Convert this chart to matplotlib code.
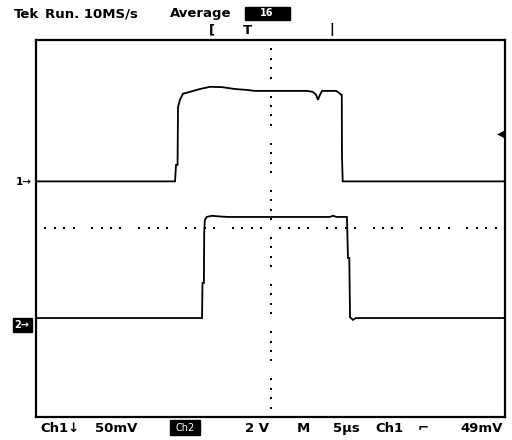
import numpy as np
import matplotlib
matplotlib.use("Agg")
import matplotlib.pyplot as plt
from matplotlib.patches import Rectangle

# ---- data (time in µs from left edge of screen) ----
ch1_t = [0, 14.82, 14.93, 15.09, 15.14, 15.35, 15.67, 16.42, 17.48, 18.55, 19.83, 21.2, 22.5, 23.3,
         24.9, 28.9, 29.5, 29.85, 30.06, 30.28, 30.5, 32.0, 32.3, 32.5, 32.6, 32.62, 32.7, 50]
ch1_mv = [0, 0, 17.5, 17.5, 79, 86.6, 93, 95, 98, 100.3, 100, 98, 97, 96,
          96, 96, 95, 92, 86.6, 92, 96, 96, 94, 92, 92, 26, 0, 0]
ch2_t = [0, 17.7, 17.75, 17.9, 17.93, 18.0, 18.2, 18.76, 19.6, 20.5, 31.3, 31.7, 32.0, 33.15,
         33.26, 33.4, 33.48, 33.8, 34.1, 50]
ch2_v = [0, 0, 1.49, 1.49, 3.61, 4.16, 4.29, 4.34, 4.31, 4.29, 4.29, 4.34, 4.29, 4.29,
         2.55, 2.55, 0.04, -0.08, 0, 0]

ch1_scale_mv = 50.0   # mV/div
ch2_scale_v = 2.0     # V/div
ch1_ground_div = 5.0
ch2_ground_div = 2.1
time_per_div = 5.0    # µs/div

header_mode = "Average"
footer = [("Ch1↓", 40), ("50mV", 95), ("2 V", 245), ("M", 297), ("5µs", 333),
          ("Ch1", 375), ("⌐", 418), ("49mV", 460)]

W, H = 512, 440
fig = plt.figure(figsize=(W / 100, H / 100), dpi=100)
fig.patch.set_facecolor("white")

L, T, R, B = 36, 40, 505, 417
ax = fig.add_axes([L / W, (H - B) / H, (R - L) / W, (B - T) / H])
ax.set_xlim(0, 10)
ax.set_ylim(0, 8)
ax.set_xticks([])
ax.set_yticks([])
for s in ax.spines.values():
    s.set_linewidth(1.6)
    s.set_color("black")

# center crosshair dots (graticule)
minor = np.arange(0, 10.001, 0.2)
minor = minor[np.abs(minor - np.round(minor)) > 0.05]
ax.plot(minor, np.full_like(minor, 4.0), ls="none", marker="s", ms=1.5, color="black", mew=0)
minor_y = np.arange(0, 8.001, 0.2)
minor_y = minor_y[np.abs(minor_y - np.round(minor_y)) > 0.05]
ax.plot(np.full_like(minor_y, 5.0), minor_y, ls="none", marker="s", ms=1.5, color="black", mew=0)

# traces
x1 = np.array(ch1_t) / time_per_div
y1 = np.array(ch1_mv) / ch1_scale_mv + ch1_ground_div
x2 = np.array(ch2_t) / time_per_div
y2 = np.array(ch2_v) / ch2_scale_v + ch2_ground_div
ax.plot(x1, y1, color="black", lw=1.3, solid_joinstyle="miter")
ax.plot(x2, y2, color="black", lw=1.3, solid_joinstyle="miter")

def px(x, y):
    return x / W, 1 - y / H

fs = 9.5
fw = "bold"
fig.text(*px(14, 14), "Tek", fontsize=fs, fontweight="heavy", va="center", ha="left")
fig.text(*px(45, 14), "Run. 10MS/s", fontsize=fs, fontweight=fw, va="center", ha="left")
fig.text(*px(170, 14), header_mode, fontsize=fs, fontweight=fw, va="center", ha="left")
fig.patches.append(Rectangle(px(245, 20), 45 / W, 13 / H, transform=fig.transFigure,
                             color="black", zorder=3))
fig.text(*px(267, 13.5), "16", fontsize=7, color="white", fontweight="bold",
         va="center", ha="center", zorder=4)
fig.text(*px(212, 30), "[", fontsize=fs, fontweight="bold", va="center", ha="center")
fig.text(*px(247, 30), "T", fontsize=fs, fontweight="bold", va="center", ha="center")
fig.text(*px(332, 30), "|", fontsize=fs, fontweight="bold", va="center", ha="center")

# channel ground markers
fig.text(*px(24, 182), "1→", fontsize=7.5, fontweight="bold", va="center", ha="center")
fig.patches.append(Rectangle(px(13, 332), 19 / W, 14 / H, transform=fig.transFigure,
                             color="black", zorder=3))
fig.text(*px(22, 325), "2→", fontsize=7, fontweight="bold", color="white",
         va="center", ha="center", zorder=4)
# trigger level marker
fig.text(*px(501, 134), "◀", fontsize=7, va="center", ha="center")

# footer
for txt, x in footer:
    fig.text(*px(x, 428), txt, fontsize=fs, fontweight=fw, va="center", ha="left")
fig.patches.append(Rectangle(px(170, 435), 30 / W, 15 / H, transform=fig.transFigure,
                             color="black", zorder=3))
fig.text(*px(185, 428), "Ch2", fontsize=7, color="white", va="center", ha="center", zorder=4)

fig.savefig("out.png", dpi=100, facecolor="white")
